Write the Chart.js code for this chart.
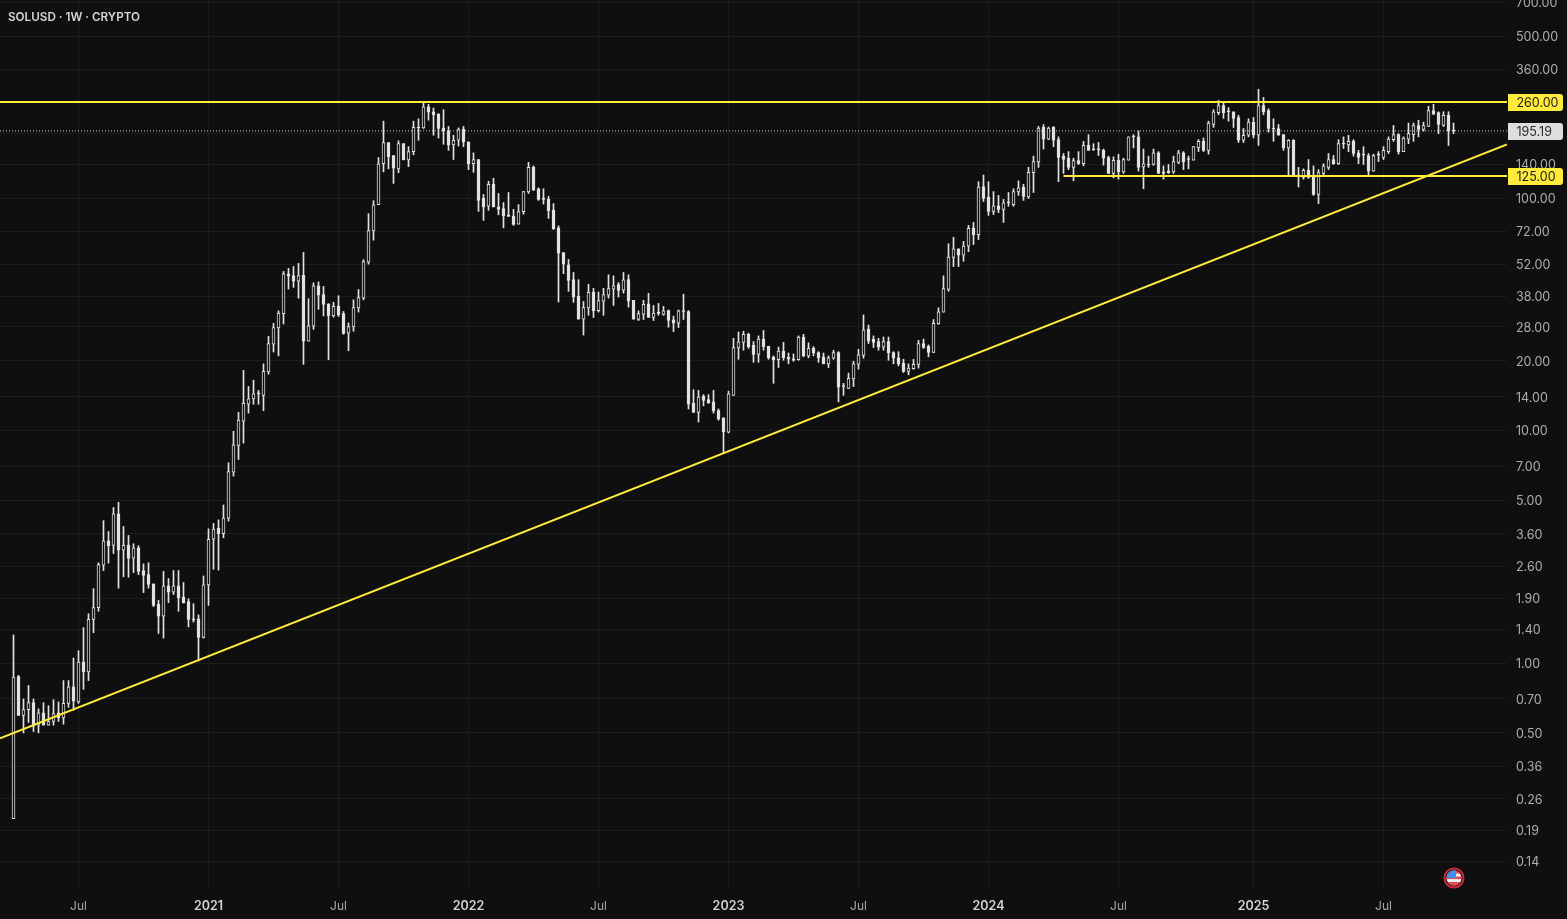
<!DOCTYPE html>
<html>
<head>
<meta charset="utf-8">
<title>SOLUSD 1W</title>
<script src="https://cdn.jsdelivr.net/npm/chart.js@4"></script>
<style>
html,body{margin:0;padding:0;background:#0f0f0f;}
canvas{display:block;}
</style>
</head>
<body>
<canvas id="c" width="1567" height="919"></canvas>
<script>
const symbolTitle = "SOLUSD · 1W · CRYPTO";
const timeTickWeeks = [13,39,65,91,117,143,169,195,221,248,274];
const timeTickLabels = ["Jul","2021","Jul","2022","Jul","2023","Jul","2024","Jul","2025","Jul"];
const priceTicks = [700,500,360,260,190,140,100,72,52,38,28,20,14,10,7,5,3.6,2.6,1.9,1.4,1,0.7,0.5,0.36,0.26,0.19,0.14];

const bodyDirections = [
"u","d","u","u","d","u","d","u","u","d",
"u","u","d","u","d","u","u","u","u","d",
"u","d","u","d","u","d","d","d","d","d",
"u","d","u","d","d","d","d","d","u","u",
"u","d","u","u","u","u","u","u","u","d",
"u","u","u","u","u","d","d","u","d","u",
"u","d","d","d","u","d","d","u","u","u",
"u","u","u","u","u","d","d","u","d","u",
"u","d","u","d","d","d","d","d","u","u",
"d","d","u","d","d","u","d","d","d","d",
"d","u","u","u","d","d","d","d","d","d",
"d","d","d","d","u","u","d","u","u","u",
"u","d","u","d","d","u","u","d","u","d",
"u","d","d","u","d","d","d","u","d","d",
"d","d","d","u","u","u","u","d","d","u",
"d","d","d","u","d","d","d","u","d","u",
"d","d","d","u","u","d","d","u","u","u",
"u","d","d","d","u","d","d","d","d","u",
"u","u","d","d","u","u","u","u","u","d",
"u","u","d","u","d","d","u","d","u","d",
"u","u","d","u","u","u","d","u","d","d",
"d","d","u","d","u","d","d","d","d","d",
"u","d","u","u","d","d","u","d","u","d",
"d","d","u","u","d","d","u","u","d","u",
"u","u","d","d","d","d","u","u","d","u",
"d","d","d","d","d","u","d","d","u","d",
"d","u","u","u","d","u","d","u","d","d",
"d","d","u","d","u","u","u","d","u","u",
"u","d","u","u","d","d","u","d","d"];

const highs = [
1.32,.884,.70,.80,.70,.635,.675,.655,.695,.68,
.84,.84,1.05,1.13,1.42,1.63,2.09,2.70,4.10,3.68,
4.67,4.92,3.87,3.54,3.26,3.20,2.67,2.70,2.19,1.86,
2.48,2.31,2.50,2.50,2.22,1.89,1.80,1.61,2.37,3.78,
3.99,4.13,4.79,7.28,9.94,12.0,18.2,15.5,16.5,14.9,
19.4,25.5,29.0,32.8,48.5,50.0,50.9,52.5,58.5,37.0,
43.3,43.7,41.8,35.2,35.7,38.1,32.6,29.1,36.6,40.5,
54.5,86,97.8,150,215,174,153,177,172,167,
215,220,259,254,245,232,241,204,187,201,
204,175,157,147,104,118.5,122,105,96,106,
89.7,94,107,143,138,111,110,102,95,76.2,
58.4,54.6,48,44.7,36,42.7,41,39.5,41,46.9,
46.4,43.4,48,46.9,36.4,32.8,36.4,39,34.6,35.3,
34.3,33.1,31.1,33.1,38.7,32.9,15,14.9,14.3,14.3,
14.9,12.4,11.4,14.8,25,26.6,26.8,26.3,24.2,25.6,
27,23.1,21,22.9,24,21.6,21.4,25.6,26,23.9,
23,21.9,21.6,21,22.2,21.9,16,17.7,19.9,22.4,
31.5,28.5,25.6,25,25.3,25.3,21.9,21.9,20.3,19.4,
20.3,24.5,24.8,23.4,30.1,33.8,46.4,63.8,68,60.7,
65.3,76.5,78.8,118,126,118,107,103,99,106,
110,119,115,136,152,204,208,203,204,184,
156,159,149,159,176,188,172,174,163,152,
151,155,149,184,188,195,163,152,163,159,
138,140,152,161,159,152,167,179,182,215,
241,264,258,246,236,228,200,220,223,295,
272,243,220,208,188,179,179,136,134,147,
138,133,141,156,153,179,184,187,179,161,
167,156,155,159,167,184,206,190,184,211,
211,217,213,249,254,236,236,236,211];

const bodyTops = [
.87,.875,.63,.675,.675,.61,.61,.56,.605,.61,
.67,.79,.79,1.01,1.01,1.54,1.73,2.65,3.36,3.36,
4.39,4.39,3.21,3.22,3.13,3.13,2.50,2.40,2.19,1.79,
2.15,2.15,2.15,2.15,1.92,1.84,1.55,1.55,2.17,3.41,
3.77,3.80,4.21,6.66,8.69,11.1,13.1,13.7,14.4,14.5,
18.0,23.7,27.8,32.1,47.4,47.4,46.5,46.5,46.7,28.3,
42.0,42.0,38.5,35.2,34.3,34.3,31.9,28.1,33.9,37.4,
53.4,72.6,93.9,141,174,174,153,172,172,159,
202,202,248,248,236,230,201,195.5,178,198,
198.5,175,147,147,100,115,115,92,90.5,85,
83.8,87.8,107,136,136,110,99.7,99,89.1,74.7,
58.4,51.8,44.7,37.9,33.9,39.4,39.5,36.3,38.5,40.9,
42.0,42.6,44.6,44.7,36.4,31.9,35,35.2,32.1,32.2,
32.8,32.9,30,32.8,32.9,32.6,13.1,14.0,14.1,13.6,
13.3,12.2,11.3,14.4,22.8,24.1,26,26,23.3,24.8,
24.8,23.1,20.7,22,22,20.7,20.4,25.3,25.3,22.6,
22.6,21.7,20.8,20.6,21.7,21.7,15.6,16.8,19.4,21.2,
27.2,27.3,24.8,24.2,24.2,24.2,21.7,20.6,19.5,18.6,
19.3,23.7,23.7,23.1,29,32.5,40.9,55.9,60.7,60.7,
62.4,74.3,74.7,112,112.5,101,93,93,95.8,96,
107,111,112,129.5,144,201,202,201,202,179,
152,149,145.5,145.5,169,169,163,163,161,150,
146,146,147,184,185,184,141,140,157,157,
130,131,144,157,157,148,167,176,176,211,
236,251,251,237,236,223,187,213,213,251,
251,239,201,200,188,178,178,126,132,132,
125,129,138,147,147,172,172.5,176,176,157,
154.5,153,153,154,161,180,188,188,182,190,
206,206,206,239,239,234,228,228,196.5];

const bodyBottoms = [
.214,.595,.595,.63,.535,.54,.54,.54,.56,.58,
.58,.67,.685,.68,.915,.915,1.54,1.73,2.64,3.2,
3.21,3.06,3.06,2.82,2.83,2.48,2.38,2.18,1.77,1.59,
1.59,2.02,2.02,1.91,1.82,1.54,1.53,1.29,1.29,2.17,
3.41,3.60,3.60,4.20,6.63,8.65,11.0,13.0,13.7,14.4,
14.2,17.9,23.6,27.7,31.9,46.3,44,44,24.3,24.3,
28.2,38.3,35,31.2,31.2,31.5,26.2,26.3,28,33.8,
37.2,53.2,72.4,93.9,141,151,135,134,146.5,146.5,
159,201,201,235,229,200,195,170,170,178,
175,141,141,98,92,92.5,91.8,89.7,84,83.6,
77.3,77.5,87.6,106.5,109,99,99,88.5,74.1,58.1,
52.1,44.3,37.6,30.2,30.2,33.8,32.9,32.9,36.1,38.3,
40.7,40.2,40.3,36.1,30.2,30.1,31.7,30.7,30.7,32,
31.7,29.8,29,29,32.6,13.0,12.0,12.0,13.5,13.2,
12.2,11.2,9.88,9.85,14.2,22.7,24,23,21.3,21.3,
23,20.6,20.2,20.2,20.6,20.3,20.1,20.2,21,21,
21.6,20.6,19.4,19.4,20.5,15.4,15.5,15.2,16.7,19.3,
21.1,24.3,24,22.9,22.9,21.6,20.5,19.4,18,18,
18.5,19.3,22.8,21.7,21.7,28.9,32.4,40.6,55.7,57,
57,62.2,69.8,69.8,100,87.9,87.9,89.7,89.7,95.6,
94,106.5,102,101.5,129,143.5,180,180,178,150,
147,136,136,141,141,161,162,162,149,128,
128,130,130,146,184,136,136.5,139,140,128,
128,129,130,143,144,147,146,165,161,161,
208,234,234,236,221,178,178,187,187,187,
236,200,199,187,165,165,124,125,123,123,
104,104,128,136,141,141,171.5,170,156,150,
153.5,131,131,153.5,150,159,179,159,159,180,
188,198,198,204,231,208,206,195,195.19];

const lows = [
.214,.595,.50,.555,.507,.50,.54,.54,.54,.56,
.545,.645,.625,.67,.77,.84,1.35,1.67,2.50,2.69,
2.96,2.10,2.35,2.34,2.45,2.40,2.01,2.10,1.75,1.34,
1.28,1.82,1.97,1.67,1.81,1.43,1.50,1.02,1.28,1.77,
2.53,2.51,3.46,4.08,6.37,7.52,8.84,11.9,13.0,13.0,
12.2,17.5,21.8,21.0,28.8,40.7,41.4,37.2,19.3,24.3,
27.3,33.3,31.2,20.2,30.8,31.0,26.0,22.1,26.8,32.4,
36.6,52.1,66.1,93.9,130,134,116,129,146.5,137,
154,178,200,217,187,182,171,161,147,168,
167,133,129.5,87.9,80.4,88.8,91.8,85,74.7,83.6,
76.5,77.5,85.5,105,108,98,94.5,82,73.5,35.8,
47.4,39.8,35.7,30.2,25.8,31.4,30.7,32.4,31.4,37.2,
34.6,37.6,39.1,34,30.2,29.8,30.1,30.7,29.8,31.4,
31.4,27.9,26.7,27.8,30.1,12.4,12,10.9,12.8,13.1,
11.9,11.1,8.0,9.78,14.2,20.3,22.2,22.6,19.7,19.7,
22.2,20.3,16.0,18.7,20.1,19.4,19.9,20.1,20.8,20.6,
21,19.7,19.4,18.7,20.3,13.3,14.2,15.2,15.5,18.4,
20.5,23.7,22.8,22.2,22.2,20.1,19.4,19,17.8,17.4,
18.4,18.6,22.6,20.8,21.7,28.7,32.4,39.8,50.9,50.9,
53.6,59,63.3,66.5,97,84.5,85.2,86.8,78.8,92.5,
92.5,103,98,100,106,136,163,179,167,118,
128,133,119,140,138,161,161,153,139,128,
122.6,121,128,146,165,131,110,136,139,128,
121,128,128,141,133,134,146,159,159,155,
202,229,221,215,202,174,174,184,182,169,
229,193,176,187,161,125,124,112,121,122,
103,95,124.5,133,140,140,164,159,152,141,
140,125,131,144,147,156,176,155,159,172,
176,184,195,204,229,190,204,169,190];

const lastPrice = 195.19;
const resistanceLevel = 260;
const supportLevel = 125;
const supportStartWeek = 210;
const trendWeeks = [-2.7, 298.7];
const trendPrices = [0.4736, 170.8];
const weekRange = [-2.7, 298.7];
const priceRange = [0.1054, 714.5];

const BG = "#0f0f0f", CANDLE = "#e2e2e2", YELLOW = "#ffeb3b", GRID = "#1c1c1c";
const weeks = highs.map((_, i) => i);

const overlayPlugin = {
  id: "overlay",
  afterDatasetsDraw(chart) {
    const c = chart.ctx, y = chart.scales.y;
    c.save();
    c.font = "600 11.7px Inter, sans-serif";
    c.fillStyle = "#d6d6d6";
    c.textAlign = "left"; c.textBaseline = "middle";
    c.fillText(symbolTitle, 8, 17);
    c.restore();
    const badge = (v, bg, fg) => {
      const py = Math.round(y.getPixelForValue(v));
      c.save();
      c.fillStyle = bg;
      c.beginPath();
      c.roundRect(1508, py - 8, 55, 17, [0, 3, 3, 0]);
      c.fill();
      c.fillStyle = fg;
      c.font = "12.5px Inter, sans-serif";
      c.textAlign = "left"; c.textBaseline = "middle";
      c.fillText(v.toFixed(2), 1516.5, py + 1.5);
      c.restore();
    };
    badge(lastPrice, "#dedede", "#2a2a2a");
    badge(resistanceLevel, YELLOW, "#1c1c1c");
    badge(supportLevel, YELLOW, "#1c1c1c");
    const fx = 1454, fy = 878;
    c.save();
    c.beginPath(); c.arc(fx, fy, 9.5, 0, Math.PI * 2);
    c.strokeStyle = "#d0283a"; c.lineWidth = 2; c.stroke();
    c.beginPath(); c.arc(fx, fy, 7.5, 0, Math.PI * 2); c.clip();
    c.fillStyle = "#f0f0f0"; c.fillRect(fx - 8, fy - 8, 16, 16);
    c.fillStyle = "#e04a50";
    c.fillRect(fx - 8, fy - 7, 16, 2.6);
    c.fillRect(fx - 8, fy - 1.5, 16, 2.6);
    c.fillRect(fx - 8, fy + 4, 16, 4);
    c.fillStyle = "#3f8fe8"; c.fillRect(fx - 8, fy - 8, 10, 8);
    c.restore();
  }
};

new Chart(document.getElementById("c"), {
  type: "bar",
  plugins: [overlayPlugin,
    { id: "bg", beforeDraw(ch) { const c = ch.ctx; c.save(); c.fillStyle = BG; c.fillRect(0, 0, ch.width, ch.height); c.restore(); } }],
  data: {
    datasets: [
      { type: "line", order: 0, data: trendWeeks.map((w, i) => ({ x: w, y: trendPrices[i] })),
        borderColor: YELLOW, borderWidth: 2, pointRadius: 0, tension: 0 },
      { type: "line", order: 0, data: [{ x: weekRange[0], y: resistanceLevel }, { x: weekRange[1], y: resistanceLevel }],
        borderColor: YELLOW, borderWidth: 2, pointRadius: 0 },
      { type: "line", order: 0, data: [{ x: supportStartWeek, y: supportLevel }, { x: weekRange[1], y: supportLevel }],
        borderColor: YELLOW, borderWidth: 2, pointRadius: 0 },
      { type: "line", order: 0, data: [{ x: weekRange[0], y: lastPrice }, { x: weekRange[1], y: lastPrice }],
        borderColor: "#cfcfcf", borderWidth: 1, borderDash: [1, 2], pointRadius: 0 },
      { type: "bar", order: 1, grouped: false, barThickness: 3, minBarLength: 1,
        data: weeks.map(i => ({ x: i, y: [bodyBottoms[i], bodyTops[i]] })),
        backgroundColor: bodyDirections.map(d => d === "u" ? BG : CANDLE),
        borderColor: CANDLE, borderWidth: 1, borderSkipped: false },
      { type: "bar", order: 2, grouped: false, barThickness: 1,
        data: weeks.map(i => ({ x: i, y: [lows[i], highs[i]] })),
        backgroundColor: CANDLE, borderWidth: 0 }
    ]
  },
  options: {
    responsive: false,
    animation: false,
    events: [],
    layout: { padding: 0 },
    plugins: { legend: { display: false }, tooltip: { enabled: false }, title: { display: false } },
    scales: {
      x: {
        type: "linear", min: weekRange[0], max: weekRange[1], offset: false, bounds: "data",
        grid: { color: GRID, offset: false, drawTicks: false, lineWidth: 1 },
        border: { display: false },
        afterBuildTicks(s) { s.ticks = timeTickWeeks.map(v => ({ value: v })); },
        afterFit(s) { s.height = 29; s.paddingLeft = 0; s.paddingRight = 0; },
        ticks: {
          autoSkip: false, maxRotation: 0, padding: 9,
          callback: (v, i) => timeTickLabels[i],
          color: ctx => /^\d/.test(timeTickLabels[ctx.index]) ? "#d4d4d4" : "#a8a8a8",
          font: ctx => /^\d/.test(timeTickLabels[ctx.index])
            ? { family: "Inter, sans-serif", size: 12.5, weight: "600" }
            : { family: "Inter, sans-serif", size: 12, weight: "400" }
        }
      },
      y: {
        type: "logarithmic", position: "right", min: priceRange[0], max: priceRange[1], bounds: "data",
        grid: { color: GRID, drawTicks: false, lineWidth: 1 },
        border: { display: false },
        afterBuildTicks(s) { s.ticks = priceTicks.map(v => ({ value: v })); },
        afterFit(s) { s.width = 60; s.paddingTop = 0; s.paddingBottom = 0; },
        ticks: {
          autoSkip: false, padding: 9, align: "center", labelOffset: 1,
          callback: v => Number(v).toFixed(2),
          color: "#adadad",
          font: { family: "Inter, sans-serif", size: 12.5 }
        }
      }
    }
  }
});
</script>
</body>
</html>
